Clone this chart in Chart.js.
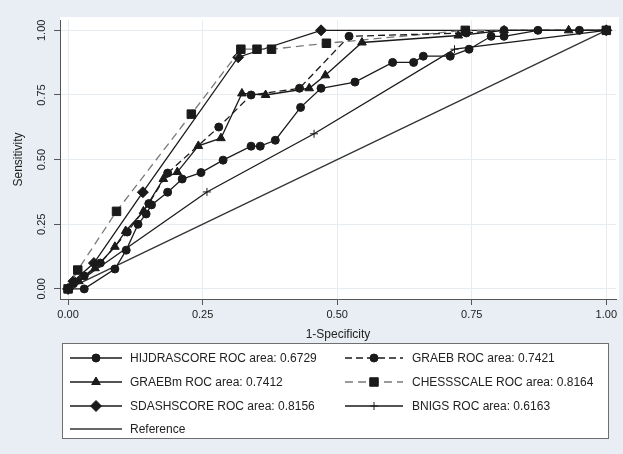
<!DOCTYPE html>
<html>
<head>
<meta charset="utf-8">
<script src="https://cdn.jsdelivr.net/npm/chart.js@4/dist/chart.umd.min.js"></script>
<style>
  html, body { margin: 0; padding: 0; background: #e8eef3; }
  #wrap { width: 623px; height: 454px; }
</style>
</head>
<body>
<div id="wrap"><canvas id="rocChart" width="623" height="454"></canvas></div>
<script>
// ROC curves, values
const hijdraX = [0, 0.03, 0.087, 0.108, 0.13, 0.145, 0.155, 0.185, 0.212, 0.247, 0.288, 0.34, 0.357, 0.385, 0.432, 0.47, 0.533, 0.603, 0.642, 0.66, 0.71, 0.745, 0.786, 0.81, 0.873, 0.95, 1];
const hijdraY = [0, 0, 0.077, 0.15, 0.25, 0.29, 0.325, 0.374, 0.425, 0.45, 0.498, 0.552, 0.552, 0.575, 0.702, 0.776, 0.80, 0.876, 0.876, 0.90, 0.90, 0.927, 0.977, 0.977, 1, 1, 1];

const graebX = [0, 0.01, 0.03, 0.06, 0.11, 0.15, 0.185, 0.28, 0.34, 0.43, 0.522, 0.74, 0.81, 1];
const graebY = [0, 0.02, 0.05, 0.10, 0.22, 0.33, 0.448, 0.626, 0.75, 0.776, 0.977, 0.99, 1, 1];

const graebmX = [0, 0.02, 0.05, 0.087, 0.107, 0.14, 0.177, 0.203, 0.242, 0.284, 0.323, 0.367, 0.448, 0.478, 0.546, 0.725, 0.81, 0.93, 1];
const graebmY = [0, 0.03, 0.08, 0.163, 0.224, 0.30, 0.425, 0.452, 0.553, 0.583, 0.756, 0.75, 0.776, 0.826, 0.953, 0.98, 1, 1, 1];

const chessX = [0, 0.018, 0.09, 0.229, 0.321, 0.351, 0.378, 0.48, 0.738, 1];
const chessY = [0, 0.073, 0.30, 0.676, 0.927, 0.927, 0.927, 0.95, 1, 1];

const sdashX = [0, 0.01, 0.048, 0.139, 0.316, 0.47, 1];
const sdashY = [0, 0.03, 0.10, 0.374, 0.896, 1, 1];

const bnigsX = [0, 0.258, 0.457, 0.718, 1];
const bnigsY = [0, 0.375, 0.60, 0.927, 1];

const refX = [0, 1];
const refY = [0, 1];

const xTicks = [0, 0.25, 0.5, 0.75, 1];
const yTicks = [0, 0.25, 0.5, 0.75, 1];
const tickText = ['0.00', '0.25', '0.50', '0.75', '1.00'];

const labels = [
  'HIJDRASCORE ROC area: 0.6729',
  'GRAEB ROC area: 0.7421',
  'GRAEBm ROC area: 0.7412',
  'CHESSSCALE ROC area: 0.8164',
  'SDASHSCORE ROC area: 0.8156',
  'BNIGS ROC area: 0.6163',
  'Reference'
];

const toPoints = (xs, ys) => xs.map((x, i) => ({ x: x, y: ys[i] }));

const FONT = '"Liberation Sans", Arial, Helvetica, sans-serif';
const ink = '#1a1a1a';

function series(label, xs, ys, style) {
  return Object.assign({
    label: label,
    data: toPoints(xs, ys),
    showLine: true,
    borderColor: ink,
    borderWidth: 1.3,
    backgroundColor: ink,
    pointBackgroundColor: ink,
    pointBorderColor: ink,
    pointBorderWidth: 1,
    pointRadius: 4,
    pointHoverRadius: 4,
    clip: false,
    tension: 0
  }, style);
}

const datasets = [
  series(labels[0], hijdraX, hijdraY, { pointStyle: 'circle' }),
  series(labels[1], graebX, graebY, { pointStyle: 'circle', borderDash: [7, 4] }),
  series(labels[2], graebmX, graebmY, { pointStyle: 'triangle', pointRadius: 5 }),
  series(labels[3], chessX, chessY, { pointStyle: 'rect', pointRadius: 6, borderColor: '#7a7a7a', borderDash: [8, 5] }),
  series(labels[4], sdashX, sdashY, { pointStyle: 'rectRot', pointRadius: 5.5 }),
  series(labels[5], bnigsX, bnigsY, { pointStyle: 'cross', pointRadius: 4, pointBorderWidth: 1 }),
  series(labels[6], refX, refY, { pointRadius: 0, borderColor: '#333' })
];

// white plot region + rotated y labels + legend box (Stata look)
const stataPlugin = {
  id: 'stata',
  beforeDraw(chart) {
    const { ctx, chartArea } = chart;
    ctx.save();
    ctx.fillStyle = '#e8eef3';
    ctx.fillRect(0, 0, chart.width, chart.height);
    ctx.fillStyle = '#ffffff';
    ctx.fillRect(chartArea.left, chartArea.top - 3, chartArea.right - chartArea.left + 3, chartArea.bottom - chartArea.top + 3);
    ctx.restore();
  },
  afterDraw(chart) {
    const { ctx, chartArea } = chart;
    const ys = chart.scales.y;
    ctx.save();
    ctx.fillStyle = '#222';
    ctx.font = '11px ' + FONT;
    ctx.textAlign = 'center';
    ctx.textBaseline = 'middle';
    yTicks.forEach((v, i) => {
      const py = ys.getPixelForValue(v);
      ctx.save();
      ctx.translate(chartArea.left - 18, py);
      ctx.rotate(-Math.PI / 2);
      ctx.fillText(tickText[i], 0, 0);
      ctx.restore();
    });
    // axis titles
    ctx.font = '12px ' + FONT;
    ctx.save();
    ctx.translate(19, (chartArea.top + chartArea.bottom) / 2);
    ctx.rotate(-Math.PI / 2);
    ctx.fillText('Sensitivity', 0, 0);
    ctx.restore();
    ctx.fillText('1-Specificity', (chartArea.left + chartArea.right) / 2, 335);

    // legend
    const box = { left: 62, top: 343, right: 608, bottom: 438 };
    ctx.fillStyle = '#ffffff';
    ctx.fillRect(box.left, box.top, box.right - box.left, box.bottom - box.top);
    ctx.strokeStyle = '#6f6f6f';
    ctx.lineWidth = 1;
    ctx.strokeRect(box.left + 0.5, box.top + 0.5, box.right - box.left, box.bottom - box.top);

    const cols = [{ x1: 70, x2: 122, tx: 130 }, { x1: 345, x2: 403, tx: 412 }];
    const rows = [358, 382, 406, 429];
    ctx.font = '12px ' + FONT;
    ctx.textAlign = 'left';
    chart.data.datasets.forEach((ds, i) => {
      const c = cols[i % 2];
      const y = rows[Math.floor(i / 2)];
      ctx.save();
      ctx.strokeStyle = ds.borderColor;
      ctx.lineWidth = ds.borderWidth;
      ctx.setLineDash(ds.borderDash || []);
      ctx.beginPath();
      ctx.moveTo(c.x1, y);
      ctx.lineTo(c.x2, y);
      ctx.stroke();
      ctx.setLineDash([]);
      if (ds.pointRadius > 0) {
        ctx.fillStyle = ink;
        ctx.strokeStyle = ink;
        ctx.lineWidth = ds.pointBorderWidth;
        Chart.helpers.drawPoint(ctx, { pointStyle: ds.pointStyle, radius: ds.pointRadius, rotation: 0, borderWidth: ds.pointBorderWidth }, (c.x1 + c.x2) / 2, y);
      }
      ctx.restore();
      ctx.fillStyle = '#222';
      ctx.fillText(ds.label, c.tx, y + 1);
    });
    ctx.restore();
  }
};

new Chart(document.getElementById('rocChart').getContext('2d'), {
  type: 'scatter',
  data: { datasets: datasets },
  plugins: [stataPlugin],
  options: {
    responsive: false,
    animation: false,
    events: [],
    layout: { padding: { top: 20, right: 3, left: 0, bottom: 0 } },
    plugins: { legend: { display: false }, tooltip: { enabled: false } },
    scales: {
      x: {
        type: 'linear',
        min: -0.015,
        max: 1.018,
        afterBuildTicks: (s) => { s.ticks = xTicks.map(v => ({ value: v })); },
        afterFit: (s) => { s.height = 155; },
        grid: { color: '#e6ecf0', lineWidth: 1, tickColor: '#555', tickLength: 6 },
        border: { color: '#555', width: 1 },
        ticks: {
          color: '#222',
          font: { family: FONT, size: 11 },
          padding: 3,
          maxRotation: 0,
          callback: (v) => tickText[xTicks.indexOf(v)]
        }
      },
      y: {
        type: 'linear',
        min: -0.039,
        max: 1.04,
        afterBuildTicks: (s) => { s.ticks = yTicks.map(v => ({ value: v })); },
        afterFit: (s) => { s.width = 60; },
        grid: { color: '#e6ecf0', lineWidth: 1, tickColor: '#555', tickLength: 6 },
        border: { color: '#555', width: 1 },
        ticks: { display: false }
      }
    }
  }
});
</script>
</body>
</html>
